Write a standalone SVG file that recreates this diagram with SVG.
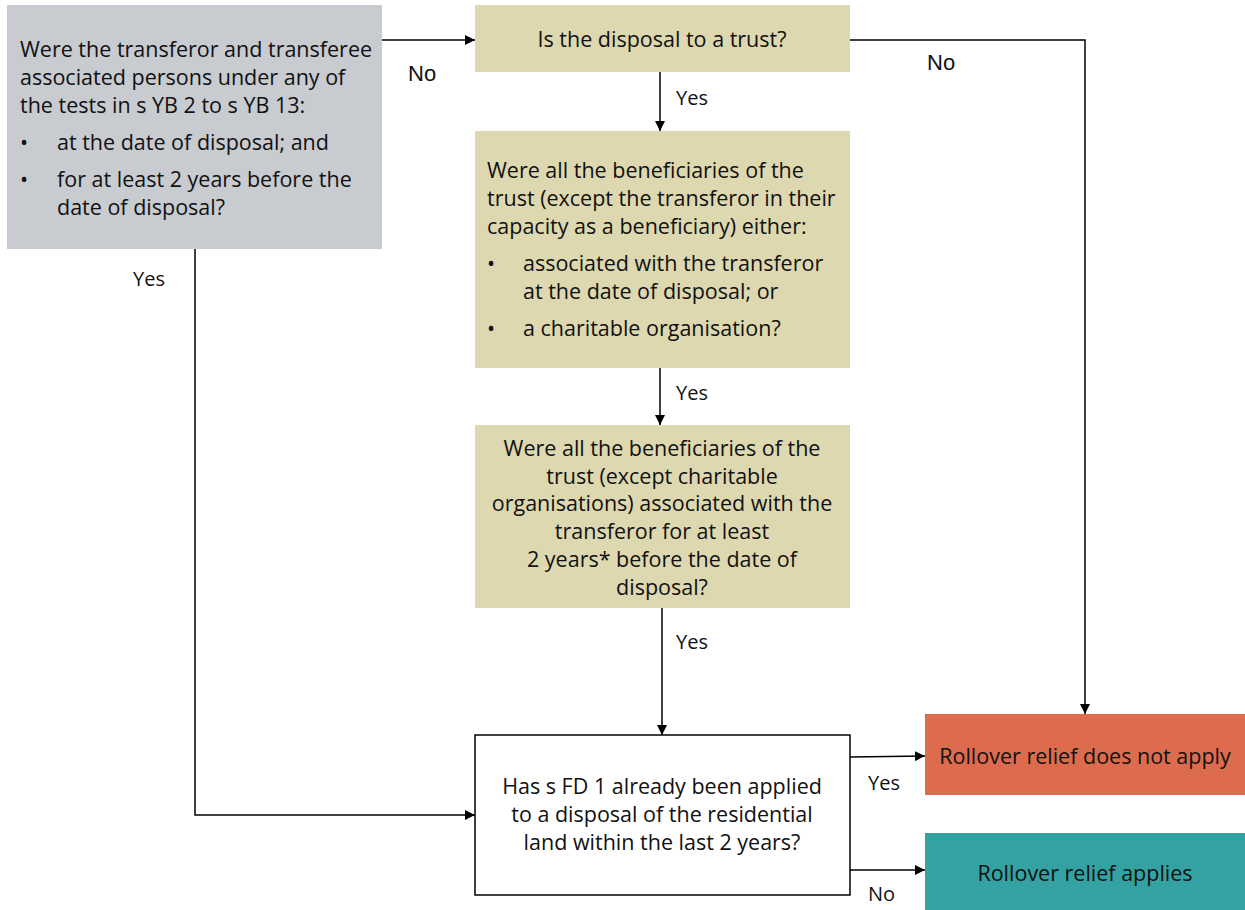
<svg xmlns="http://www.w3.org/2000/svg" width="1245" height="910" viewBox="0 0 1245 910">
<defs>
<marker id="arr" viewBox="0 0 10 10" refX="10" refY="5" markerWidth="10" markerHeight="10" markerUnits="userSpaceOnUse" orient="auto"><path d="M0,0 L10,5 L0,10 z" fill="#000"/></marker>
<style>
text{font-family:"Open Sans","Noto Sans",sans-serif;font-size:21.5px;fill:#111}
.c{text-anchor:middle}
.y{font-size:20px}
.lbl{font-family:"Liberation Sans",Arial,sans-serif;font-size:22px}
.ln{fill:none;stroke:#000;stroke-width:1.5}
.q{fill:#DED8B0}
</style>
</defs>
<rect width="1245" height="910" fill="#fff"/>
<g id="connectors">
<path class="ln" d="M382,40 H475" marker-end="url(#arr)"/>
<path class="ln" d="M850,40 H1085 V714" marker-end="url(#arr)"/>
<path class="ln" d="M660,72 V131" marker-end="url(#arr)"/>
<path class="ln" d="M660,368 V425" marker-end="url(#arr)"/>
<path class="ln" d="M662,608 V735" marker-end="url(#arr)"/>
<path class="ln" d="M195,249 V815 H475" marker-end="url(#arr)"/>
<path class="ln" d="M850,757 L925,756" marker-end="url(#arr)"/>
<path class="ln" d="M850,870 H925" marker-end="url(#arr)"/>
<text class="lbl" x="408" y="81">No</text>
<text class="lbl" x="927" y="70">No</text>
<text class="y" x="676" y="105">Yes</text>
<text class="y" x="676" y="400">Yes</text>
<text class="y" x="676" y="649">Yes</text>
<text class="y" x="133" y="286">Yes</text>
<text class="y" x="868" y="790">Yes</text>
<text class="y" x="868" y="901">No</text>
</g>
<g id="n-associated">
<rect x="7" y="5" width="375" height="244" fill="#C8CBD0"/>
<text x="20" y="57">Were the transferor and transferee</text>
<text x="20" y="85">associated persons under any of</text>
<text x="20" y="113">the tests in s YB 2 to s YB 13:</text>
<text x="20" y="150">•</text><text x="57" y="150">at the date of disposal; and</text>
<text x="20" y="187">•</text><text x="57" y="187">for at least 2 years before the</text>
<text x="57" y="215">date of disposal?</text>
</g>
<g id="n-trust">
<rect class="q" x="475" y="5" width="375" height="67"/>
<text class="c" x="662" y="47">Is the disposal to a trust?</text>
</g>
<g id="n-beneficiaries">
<rect class="q" x="475" y="131" width="375" height="237"/>
<text x="487" y="178">Were all the beneficiaries of the</text>
<text x="487" y="206">trust (except the transferor in their</text>
<text x="487" y="234">capacity as a beneficiary) either:</text>
<text x="487" y="271">•</text><text x="523" y="271">associated with the transferor</text>
<text x="523" y="299">at the date of disposal; or</text>
<text x="487" y="336">•</text><text x="523" y="336">a charitable organisation?</text>
</g>
<g id="n-two-years">
<rect class="q" x="475" y="425" width="375" height="183"/>
<text class="c" x="662" y="456">Were all the beneficiaries of the</text>
<text class="c" x="662" y="484">trust (except charitable</text>
<text class="c" x="662" y="511">organisations) associated with the</text>
<text class="c" x="662" y="539">transferor for at least</text>
<text class="c" x="662" y="567">2 years* before the date of</text>
<text class="c" x="662" y="595">disposal?</text>
</g>
<g id="n-fd1">
<rect x="475" y="735" width="375" height="160" fill="#fff" stroke="#000" stroke-width="1.5"/>
<text class="c" x="662" y="794">Has s FD 1 already been applied</text>
<text class="c" x="662" y="822">to a disposal of the residential</text>
<text class="c" x="662" y="850">land within the last 2 years?</text>
</g>
<g id="n-not-apply">
<rect x="925" y="714" width="320" height="81" fill="#DD6B4D"/>
<text class="c" x="1085" y="764">Rollover relief does not apply</text>
</g>
<g id="n-applies">
<rect x="925" y="833" width="320" height="77" fill="#34A2A2"/>
<text class="c" x="1085" y="881">Rollover relief applies</text>
</g>
</svg>
